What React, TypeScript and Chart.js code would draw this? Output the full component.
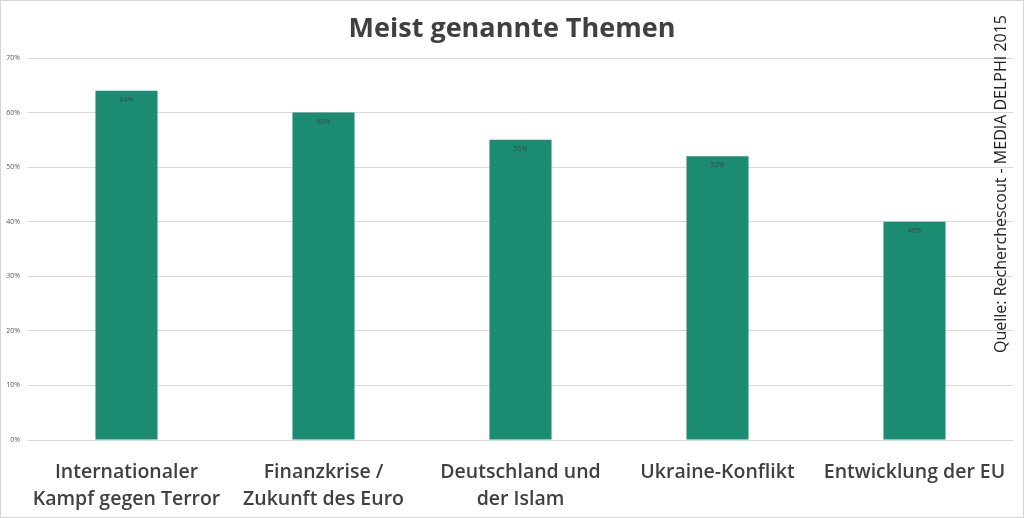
import React, { useEffect, useRef } from "react";
import { Chart, registerables, Plugin } from "chart.js";

Chart.register(...registerables);

const TITLE = "Meist genannte Themen";
const SOURCE = "Quelle: Recherchescout - MEDIA DELPHI 2015";
const CATEGORIES: string[][] = [
  ["Internationaler", "Kampf gegen Terror"],
  ["Finanzkrise /", "Zukunft des Euro"],
  ["Deutschland und", "der Islam"],
  ["Ukraine-Konflikt"],
  ["Entwicklung der EU"],
];
const VALUES = [64, 60, 55, 52, 40];
const Y_MAX = 70;
const Y_STEP = 10;

const FONT = "'Open Sans', 'Noto Sans', sans-serif";
const BAR_COLOR = "#1b8b71";
const TEXT_DARK = "#404040";

// title, source note, value labels and the thin frame
const decorations: Plugin<"bar"> = {
  id: "decorations",
  afterDatasetsDraw(chart) {
    const { ctx, width, height } = chart;
    ctx.save();

    ctx.fillStyle = TEXT_DARK;
    ctx.font = `700 27px ${FONT}`;
    ctx.textAlign = "center";
    ctx.textBaseline = "middle";
    ctx.fillText(TITLE, width / 2, 29);

    const meta = chart.getDatasetMeta(0);
    ctx.font = `7px ${FONT}`;
    ctx.fillStyle = "#3a4a44";
    meta.data.forEach((bar, i) => {
      ctx.fillText(`${VALUES[i]}%`, bar.x, bar.y + 9);
    });

    ctx.translate(1001, 184);
    ctx.rotate(-Math.PI / 2);
    ctx.font = `16px ${FONT}`;
    ctx.fillStyle = "#222";
    ctx.fillText(SOURCE, 0, 0);
    ctx.restore();

    ctx.save();
    ctx.strokeStyle = "#d4d4d4";
    ctx.lineWidth = 1;
    ctx.strokeRect(0.5, 0.5, width - 1, height - 1);
    ctx.restore();
  },
};

export default function App() {
  const canvasRef = useRef<HTMLCanvasElement>(null);

  useEffect(() => {
    if (!canvasRef.current) return;
    const chart = new Chart(canvasRef.current, {
      type: "bar",
      data: {
        labels: CATEGORIES,
        datasets: [
          {
            data: VALUES,
            backgroundColor: BAR_COLOR,
            barPercentage: 0.63,
            categoryPercentage: 0.5,
          },
        ],
      },
      options: {
        responsive: false,
        animation: false,
        layout: { padding: { left: 0, right: 11, top: 58, bottom: 0 } },
        plugins: {
          legend: { display: false },
          tooltip: { enabled: false },
          title: { display: false },
        },
        scales: {
          x: {
            grid: { display: false },
            border: { display: false },
            ticks: {
              color: TEXT_DARK,
              font: { family: FONT, size: 19.5, weight: 600, lineHeight: 1.38 },
              padding: 11,
              maxRotation: 0,
              autoSkip: false,
            },
            afterFit(scale) {
              scale.height = 78;
            },
          },
          y: {
            min: 0,
            max: Y_MAX,
            grid: { color: "#d9d9d9", drawTicks: false },
            border: { display: false },
            ticks: {
              stepSize: Y_STEP,
              color: "#595959",
              font: { family: FONT, size: 7 },
              padding: 8,
              callback: (v) => `${v}%`,
            },
            afterFit(scale) {
              scale.width = 28;
            },
          },
        },
      },
      plugins: [decorations],
    });
    return () => chart.destroy();
  }, []);

  return (
    <div style={{ position: "fixed", left: 0, top: 0, width: 1024, height: 518, background: "#fff" }}>
      <canvas ref={canvasRef} width={1024} height={518} style={{ width: 1024, height: 518 }} />
    </div>
  );
}
